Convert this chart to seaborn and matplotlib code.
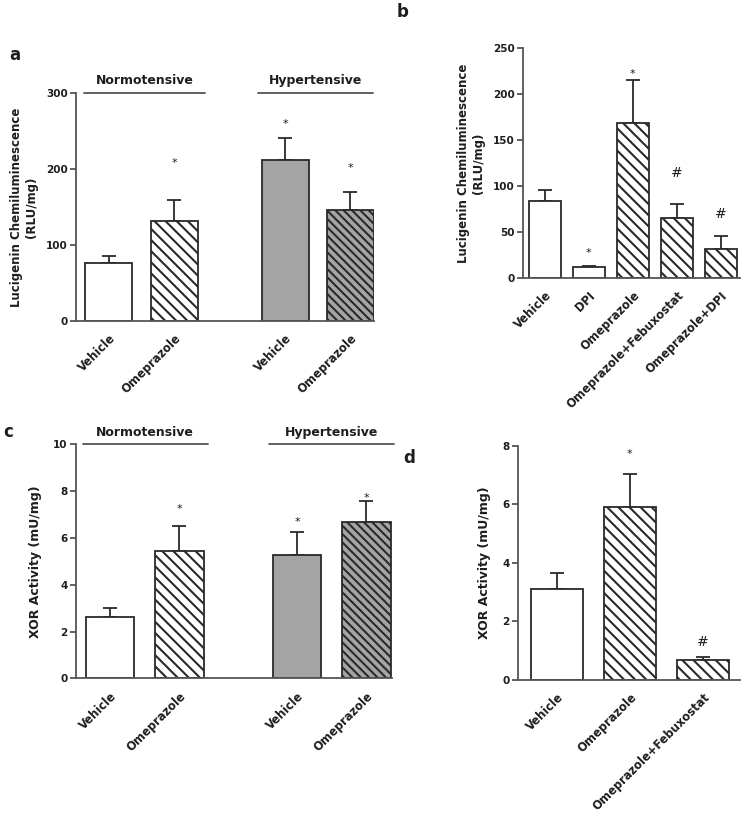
import numpy as np
import matplotlib
matplotlib.use("Agg")
import matplotlib.pyplot as plt
import seaborn as sns

sns.set_style("ticks")
plt.rcParams['font.family'] = ['DejaVu Sans']
plt.rcParams['font.weight'] = 'bold'
plt.rcParams['axes.labelweight'] = 'bold'
plt.rcParams['hatch.linewidth'] = 1.5
plt.rcParams['text.color'] = '#1e1e1e'
plt.rcParams['axes.labelcolor'] = '#1e1e1e'
plt.rcParams['xtick.labelcolor'] = '#1e1e1e'
plt.rcParams['ytick.labelcolor'] = '#1e1e1e'

# ---- data ----
# panel a: superoxide, normotensive vs hypertensive
a_labels = ["Vehicle", "Omeprazole", "Vehicle", "Omeprazole"]
a_groups = ["Normotensive", "Normotensive", "Hypertensive", "Hypertensive"]
a_mean = [76, 132, 212, 146]
a_sem = [10, 27, 29, 24]
a_marks = ["", "*", "*", "*"]
a_mark_y = [0, 211, 263, 205]

# panel b: superoxide, inhibitors
b_labels = ["Vehicle", "DPI", "Omeprazole", "Omeprazole+Febuxostat", "Omeprazole+DPI"]
b_mean = [84, 12, 168, 65, 32]
b_sem = [12, 1.5, 47, 15, 14]
b_marks = ["", "*", "*", "#", "#"]
b_mark_y = [0, 30, 225, 114, 70]

# panel c: XOR activity, normotensive vs hypertensive
c_labels = ["Vehicle", "Omeprazole", "Vehicle", "Omeprazole"]
c_groups = ["Normotensive", "Normotensive", "Hypertensive", "Hypertensive"]
c_mean = [2.64, 5.46, 5.28, 6.70]
c_sem = [0.38, 1.05, 0.99, 0.88]
c_marks = ["", "*", "*", "*"]
c_mark_y = [0, 7.36, 6.8, 7.83]

# panel d: XOR activity, febuxostat
d_labels = ["Vehicle", "Omeprazole", "Omeprazole+Febuxostat"]
d_mean = [3.11, 5.91, 0.69]
d_sem = [0.55, 1.11, 0.11]
d_marks = ["", "*", "#"]
d_mark_y = [0, 7.82, 1.31]

GREY = "#a4a4a4"
EDGE = "#2a2a2a"
SPINE = "#555555"

fig = plt.figure(figsize=(7.5, 8.17), dpi=100)
W, H = 750, 817


def add_ax(left, top, right, bottom):
    # pixel box -> figure fraction
    return fig.add_axes([left / W, 1 - bottom / H, (right - left) / W, (bottom - top) / H])


def draw_panel(ax, pos, labels, mean, sem, marks, mark_y, groups, ylim, yticks, width, xlim):
    sns.barplot(x=pos, y=mean, native_scale=True, width=width, color="white",
                edgecolor=EDGE, linewidth=1.3, errorbar=None, ax=ax, zorder=2)
    for i, patch in enumerate(ax.patches):
        hyper = groups is not None and groups[i] == "Hypertensive"
        patch.set_facecolor(GREY if hyper else "white")
        if labels[i].startswith("Omeprazole"):
            patch.set_hatch("\\\\\\\\" if hyper else "\\\\\\")
    ax.errorbar(pos, mean, yerr=[np.zeros(len(mean)), sem], fmt="none",
                ecolor=EDGE, elinewidth=1.3, capsize=5, capthick=1.3, zorder=1)
    span = ylim[1] - ylim[0]
    for x, m, y in zip(pos, marks, mark_y):
        if m == "*":
            ax.text(x, y - 0.012 * span, m, ha="center", va="center", fontsize=8, fontweight="normal")
        elif m == "#":
            ax.text(x, y, m, ha="center", va="center", fontsize=10, fontweight="normal")
    ax.set_ylim(*ylim)
    ax.set_yticks(yticks)
    ax.set_xlim(*xlim)
    ax.set_xticks(pos)
    ax.set_xticklabels(labels, rotation=45, ha="right", rotation_mode="anchor", fontsize=8.3)
    ax.tick_params(axis="x", length=0, pad=8)
    ax.tick_params(axis="y", length=4, width=1.3, color=SPINE, labelsize=7.5, pad=2)
    sns.despine(ax=ax)
    for s in ("left", "bottom"):
        ax.spines[s].set_color(SPINE)
        ax.spines[s].set_linewidth(1.3)


def group_lines(ax, spans, names, ytop, fs):
    for (x0, x1), name in zip(spans, names):
        ax.plot([x0, x1], [ytop, ytop], color=SPINE, lw=1.3, clip_on=False)
        ax.annotate(name, xy=((x0 + x1) / 2, ytop), xytext=(0, 4), textcoords="offset points",
                    ha="center", va="bottom", fontsize=fs, annotation_clip=False)


# panel a
ax_a = add_ax(76, 92.7, 374, 321)
pos_a = [0, 1, 2.7, 3.7]
draw_panel(ax_a, pos_a, a_labels, a_mean, a_sem, a_marks, a_mark_y, a_groups,
           (0, 300), [0, 100, 200, 300], 0.72, (-0.5, 4.06))
ax_a.set_ylabel("Lucigenin Chemiluminescence\n(RLU/mg)", fontsize=8.5, labelpad=6)
group_lines(ax_a, [(-0.37, 1.47), (2.28, 4.04)], ["Normotensive", "Hypertensive"], 300, 9)

# panel b
ax_b = add_ax(523, 48, 740, 278)
pos_b = [0, 1, 2, 3, 4]
draw_panel(ax_b, pos_b, b_labels, b_mean, b_sem, b_marks, b_mark_y, None,
           (0, 250), [0, 50, 100, 150, 200, 250], 0.73, (-0.5, 4.44))
ax_b.set_ylabel("Lucigenin Chemiluminescence\n(RLU/mg)", fontsize=8.5, labelpad=6)

# panel c
ax_c = add_ax(76, 444.3, 392, 678.3)
pos_c = [0, 1, 2.7, 3.7]
draw_panel(ax_c, pos_c, c_labels, c_mean, c_sem, c_marks, c_mark_y, c_groups,
           (0, 10), [0, 2, 4, 6, 8, 10], 0.70, (-0.49, 4.07))
ax_c.set_ylabel("XOR Activity (mU/mg)", fontsize=9, labelpad=8)
group_lines(ax_c, [(-0.39, 1.41), (2.30, 4.10)], ["Normotensive", "Hypertensive"], 10, 9)

# panel d
ax_d = add_ax(518, 445.7, 740, 680)
pos_d = [0, 1, 2]
draw_panel(ax_d, pos_d, d_labels, d_mean, d_sem, d_marks, d_mark_y, None,
           (0, 8), [0, 2, 4, 6, 8], 0.71, (-0.53, 2.51))
ax_d.set_ylabel("XOR Activity (mU/mg)", fontsize=9, labelpad=8)

for letter, (px, py) in zip("abcd", [(15, 55), (403, 12), (8, 432), (409, 458)]):
    fig.text(px / W, 1 - py / H, letter, ha="center", va="center", fontsize=12, fontweight="bold")

fig.savefig("out.png", dpi=100)
